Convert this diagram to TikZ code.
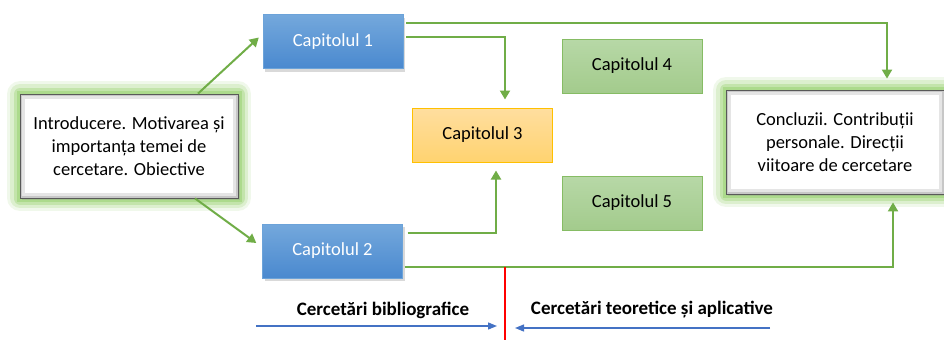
\documentclass[tikz,border=0pt]{standalone}
\usepackage{fontspec}
\setmainfont{Carlito}
\usetikzlibrary{arrows.meta,shadows}
\definecolor{bluetop}{HTML}{74A8DC}
\definecolor{bluebot}{HTML}{4A89CF}
\definecolor{blueline}{HTML}{6CA3D9}
\definecolor{yellowtop}{HTML}{FFDE9F}
\definecolor{yellowbot}{HTML}{FFD370}
\definecolor{yellowline}{HTML}{FFC000}
\definecolor{greentop}{HTML}{B7D8A7}
\definecolor{greenbot}{HTML}{A3CB8C}
\definecolor{greenline}{HTML}{86BC64}
\definecolor{glowgreen}{HTML}{9DD377}
\definecolor{linegreen}{HTML}{70AD47}
\definecolor{arrowblue}{HTML}{4472C4}
\definecolor{splitred}{HTML}{FF0000}

\begin{document}
\begin{tikzpicture}[x=1pt,y=-1pt]

\useasboundingbox (0,0) rectangle (944,340);

\tikzstyle{chap}=[rectangle, minimum width=140pt, minimum height=54pt, inner sep=0pt, font=\fontsize{18.5}{22}\selectfont]
\tikzstyle{bluebox}=[chap, draw=blueline, top color=bluetop, bottom color=bluebot, text=white, drop shadow={shadow xshift=2pt, shadow yshift=-3pt, opacity=0.3}]
\tikzstyle{yellowbox}=[chap, draw=yellowline, line width=1pt, top color=yellowtop, bottom color=yellowbot]
\tikzstyle{greenbox}=[chap, draw=greenline, line width=0.8pt, top color=greentop, bottom color=greenbot]
\tikzstyle{bigbox}=[rectangle, minimum width=218pt, minimum height=104pt, inner sep=0pt, align=center, fill=white, draw=black!65, line width=0.8pt, font=\fontsize{18.5}{23}\selectfont,
  preaction={draw=glowgreen, line width=26pt, line join=round, opacity=0.15},
  preaction={draw=glowgreen, line width=20pt, line join=round, opacity=0.25},
  preaction={draw=glowgreen, line width=13pt, line join=round, opacity=0.4},
  preaction={draw=glowgreen, line width=7pt, opacity=0.6},
  drop shadow={shadow xshift=2pt, shadow yshift=-2pt, opacity=0.25},
  path picture={\draw[black!10, line width=10pt] (path picture bounding box.south west) rectangle (path picture bounding box.north east);
                \draw[black!22, line width=4pt] (path picture bounding box.south west) rectangle (path picture bounding box.north east);}]
\tikzstyle{arrow}=[-{Triangle[length=9pt,width=10pt]}, draw=linegreen, line width=2pt]
\tikzstyle{bluearrow}=[-{Triangle[length=9pt,width=7pt]}, draw=arrowblue, line width=1.3pt]
\tikzstyle{side}=[font=\fontsize{19}{22}\selectfont\bfseries]

\node (A) [bigbox] at (129,146) {Introducere. Motivarea și\\importanța temei de\\cercetare. Obiective};
\node (B) [bluebox] at (333,41.5) {Capitolul 1};
\node (C) [bluebox] at (332.5,251) {Capitolul 2};
\node (D) [yellowbox] at (482.5,135) {Capitolul 3};
\node (E) [greenbox] at (632,66) {Capitolul 4};
\node (F) [greenbox] at (632,203) {Capitolul 5};
\node (G) [bigbox] at (835,142) {Concluzii. Contribuții\\personale. Direcții\\viitoare de cercetare};

\node (L1) [side] at (383,310) {Cercetări bibliografice};
\node (L2) [side] at (652,310) {Cercetări teoretice și aplicative};

\coordinate (S1) at (505,267);
\coordinate (S2) at (505,340);
\coordinate (P1) at (256,326);
\coordinate (P2) at (770,328);

\draw [arrow] ([xshift=69pt]A.north) -- ([xshift=-4pt,yshift=4pt]B.west);
\draw [arrow] ([xshift=66pt]A.south) -- ([xshift=-6pt,yshift=8pt]C.west);
\draw [arrow] ([xshift=3pt,yshift=18.5pt]B.east) -| ([xshift=52pt,yshift=11pt]G.north);
\draw [arrow] ([xshift=3pt,yshift=4.5pt]B.east) -| ([xshift=22.5pt,yshift=8pt]D.north);
\draw [arrow] ([xshift=5pt,yshift=18pt]C.east) -| ([xshift=13.5pt,yshift=-8pt]D.south);
\draw [arrow] ([xshift=2pt,yshift=-16pt]C.east) -| ([xshift=58pt,yshift=-8pt]G.south);

\draw [draw=splitred, line width=1.3pt] (S1) -- (S2);
\draw [bluearrow, shorten >=8pt] (P1) -- (P1 -| S2);
\draw [bluearrow, shorten >=10pt] (P2) -- (P2 -| S2);

\end{tikzpicture}
\end{document}
